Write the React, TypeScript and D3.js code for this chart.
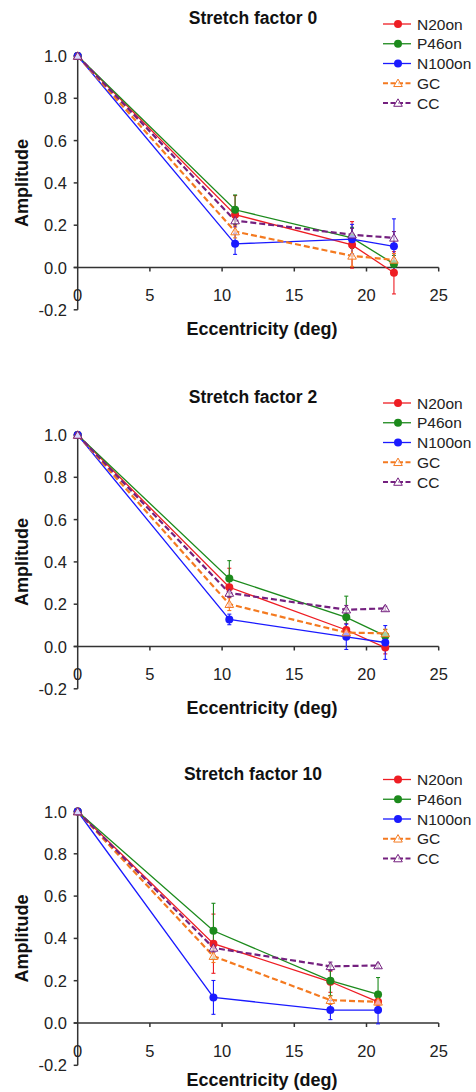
import React from "react";
import * as d3 from "d3";

// Series shown in every panel
const seriesNames = ["N20on", "P46on", "N100on", "GC", "CC"];
const seriesColors = ["#ee1d23", "#1c8a1c", "#1a1aff", "#f47a20", "#74207f"];
const seriesDashed = [false, false, false, true, true];

const panelTitles = ["Stretch factor 0", "Stretch factor 2", "Stretch factor 10"];

// Eccentricities (deg) per panel
const eccSF0 = [0, 10.9, 19.0, 21.9];
const eccSF2 = [0, 10.5, 18.6, 21.3];
const eccSF10 = [0, 9.4, 17.5, 20.8];

// Normalised amplitudes, stretch factor 0
const sf0N20 = [1, 0.25, 0.107, -0.025];
const sf0P46 = [1, 0.273, 0.14, 0.017];
const sf0N100 = [1, 0.112, 0.134, 0.1];
const sf0GC = [1, 0.17, 0.055, 0.036];
const sf0CC = [1, 0.222, 0.155, 0.14];
// Standard errors, stretch factor 0
const sf0N20Err = [0, 0.09, 0.11, 0.1];
const sf0P46Err = [0, 0.07, 0.05, 0.04];
const sf0N100Err = [0, 0.05, 0.07, 0.13];
const sf0GCErr = [0, 0.03, 0.05, 0.03];
const sf0CCErr = [0, 0.03, 0.03, 0.03];

// Normalised amplitudes, stretch factor 2
const sf2N20 = [1, 0.28, 0.078, -0.005];
const sf2P46 = [1, 0.321, 0.138, 0.05];
const sf2N100 = [1, 0.128, 0.046, 0.019];
const sf2GC = [1, 0.2, 0.066, 0.062];
const sf2CC = [1, 0.253, 0.174, 0.18];
// Standard errors, stretch factor 2
const sf2N20Err = [0, 0.09, 0.03, 0.03];
const sf2P46Err = [0, 0.085, 0.1, 0.03];
const sf2N100Err = [0, 0.025, 0.06, 0.08];
const sf2GCErr = [0, 0.03, 0.02, 0.02];
const sf2CCErr = [0, 0.02, 0.02, 0.01];

// Normalised amplitudes, stretch factor 10
const sf10N20 = [1, 0.375, 0.195, 0.1];
const sf10P46 = [1, 0.436, 0.2, 0.135];
const sf10N100 = [1, 0.121, 0.061, 0.061];
const sf10GC = [1, 0.316, 0.108, 0.1];
const sf10CC = [1, 0.355, 0.268, 0.272];
// Standard errors, stretch factor 10
const sf10N20Err = [0, 0.14, 0.05, 0.03];
const sf10P46Err = [0, 0.13, 0.07, 0.08];
const sf10N100Err = [0, 0.08, 0.045, 0.065];
const sf10GCErr = [0, 0.03, 0.02, 0.02];
const sf10CCErr = [0, 0.02, 0.02, 0.01];

const xTicks = [0, 5, 10, 15, 20, 25];
const yTicks = [-0.2, 0, 0.2, 0.4, 0.6, 0.8, 1.0];

const panels = [
  { title: panelTitles[0], ecc: eccSF0, amps: [sf0N20, sf0P46, sf0N100, sf0GC, sf0CC], errs: [sf0N20Err, sf0P46Err, sf0N100Err, sf0GCErr, sf0CCErr] },
  { title: panelTitles[1], ecc: eccSF2, amps: [sf2N20, sf2P46, sf2N100, sf2GC, sf2CC], errs: [sf2N20Err, sf2P46Err, sf2N100Err, sf2GCErr, sf2CCErr] },
  { title: panelTitles[2], ecc: eccSF10, amps: [sf10N20, sf10P46, sf10N100, sf10GC, sf10CC], errs: [sf10N20Err, sf10P46Err, sf10N100Err, sf10GCErr, sf10CCErr] },
];

const W = 476;
const H = 1092;
const panelTops = [56, 435, 811.5];
const unitHeight = 211.5;
const FONT = "'Liberation Sans', Arial, Helvetica, sans-serif";
const AXIS = "#333";

const x = d3.scaleLinear().domain([0, 25]).range([77.7, 438.7]);

function Marker({ cx, cy, i }: { cx: number; cy: number; i: number }) {
  const c = seriesColors[i];
  if (!seriesDashed[i]) return <circle cx={cx} cy={cy} r={4} fill={c} />;
  const tri = d3.symbol(d3.symbolTriangle, 32)() as string;
  return <path d={tri} transform={`translate(${cx},${cy + 0.8})`} fill="#fff" fillOpacity={0.6} stroke={c} strokeWidth={1} />;
}

function Panel({ p, top }: { p: typeof panels[number]; top: number }) {
  const y = d3.scaleLinear().domain([-0.2, 1.0]).range([top + 1.2 * unitHeight, top]);
  const line = d3
    .line<number>()
    .x((_, k) => x(p.ecc[k]))
    .y((v) => y(v));
  const x0 = x(0);
  const legendX = 383;
  const legendY0 = top - 32;
  const legendStep = 19.75;
  const xLabelY = Math.min(y(-0.2) + 25, H - 6);
  return (
    <g>
      <text x={253} y={top - 32} textAnchor="middle" fontFamily={FONT} fontWeight="bold" fontSize={17.5} fill="#111">
        {p.title}
      </text>
      {/* axes */}
      <line x1={x0} x2={x0} y1={y(1.0)} y2={y(-0.2)} stroke={AXIS} strokeWidth={1.5} />
      <line x1={x0 - 4} x2={x(25)} y1={y(0)} y2={y(0)} stroke={AXIS} strokeWidth={1.5} />
      {yTicks.map((t) => (
        <g key={t}>
          <line x1={x0 - 4} x2={x0} y1={y(t)} y2={y(t)} stroke={AXIS} strokeWidth={1.5} />
          <text x={67} y={y(t) + 6} textAnchor="end" fontFamily={FONT} fontSize={16.5} fill="#222">
            {d3.format(".1f")(t).replace("−", "-")}
          </text>
        </g>
      ))}
      {xTicks.map((t) => (
        <g key={t}>
          {t > 0 && <line x1={x(t)} x2={x(t)} y1={y(0)} y2={y(0) + 4} stroke={AXIS} strokeWidth={1.5} />}
          <text x={x(t)} y={y(0) + 33.5} textAnchor="middle" fontFamily={FONT} fontSize={16.5} fill="#222">
            {t}
          </text>
        </g>
      ))}
      <text x={262} y={xLabelY} textAnchor="middle" fontFamily={FONT} fontWeight="bold" fontSize={18} fill="#111">
        Eccentricity (deg)
      </text>
      <text
        transform={`translate(28,${(y(1.0) + y(-0.2)) / 2}) rotate(-90)`}
        textAnchor="middle"
        fontFamily={FONT}
        fontWeight="bold"
        fontSize={18}
        fill="#111"
      >
        Amplitude
      </text>
      {/* series lines */}
      {p.amps.map((a, i) => (
        <path
          key={"l" + i}
          d={line(a) as string}
          fill="none"
          stroke={seriesColors[i]}
          strokeWidth={seriesDashed[i] ? 2.2 : 1.3}
          strokeDasharray={seriesDashed[i] ? "6,3" : undefined}
        />
      ))}
      {/* error bars */}
      {p.amps.map((a, i) =>
        a.map((v, k) =>
          p.errs[i][k] > 0 ? (
            <g key={`e${i}-${k}`} stroke={seriesColors[i]} strokeWidth={1.1}>
              <line x1={x(p.ecc[k])} x2={x(p.ecc[k])} y1={y(v - p.errs[i][k])} y2={y(v + p.errs[i][k])} />
              <line x1={x(p.ecc[k]) - 2} x2={x(p.ecc[k]) + 2} y1={y(v + p.errs[i][k])} y2={y(v + p.errs[i][k])} />
              <line x1={x(p.ecc[k]) - 2} x2={x(p.ecc[k]) + 2} y1={y(v - p.errs[i][k])} y2={y(v - p.errs[i][k])} />
            </g>
          ) : null
        )
      )}
      {/* markers */}
      {p.amps.map((a, i) =>
        a.map((v, k) => <Marker key={`m${i}-${k}`} cx={x(p.ecc[k])} cy={y(v)} i={i} />)
      )}
      {/* legend */}
      {seriesNames.map((name, i) => {
        const ly = legendY0 + i * legendStep;
        return (
          <g key={name}>
            <line
              x1={legendX}
              x2={legendX + 28}
              y1={ly}
              y2={ly}
              stroke={seriesColors[i]}
              strokeWidth={seriesDashed[i] ? 2 : 1.3}
              strokeDasharray={seriesDashed[i] ? "5,2.5" : undefined}
            />
            <Marker cx={legendX + 15} cy={ly} i={i} />
            <text x={legendX + 34} y={ly + 5.5} fontFamily={FONT} fontSize={15.5} fill="#222">
              {name}
            </text>
          </g>
        );
      })}
    </g>
  );
}

export default function App() {
  return (
    <svg
      width={W}
      height={H}
      viewBox={`0 0 ${W} ${H}`}
      style={{ position: "absolute", left: 0, top: 0, background: "#fff" }}
    >
      <rect width={W} height={H} fill="#fff" />
      {panels.map((p, idx) => (
        <Panel key={p.title} p={p} top={panelTops[idx]} />
      ))}
    </svg>
  );
}
